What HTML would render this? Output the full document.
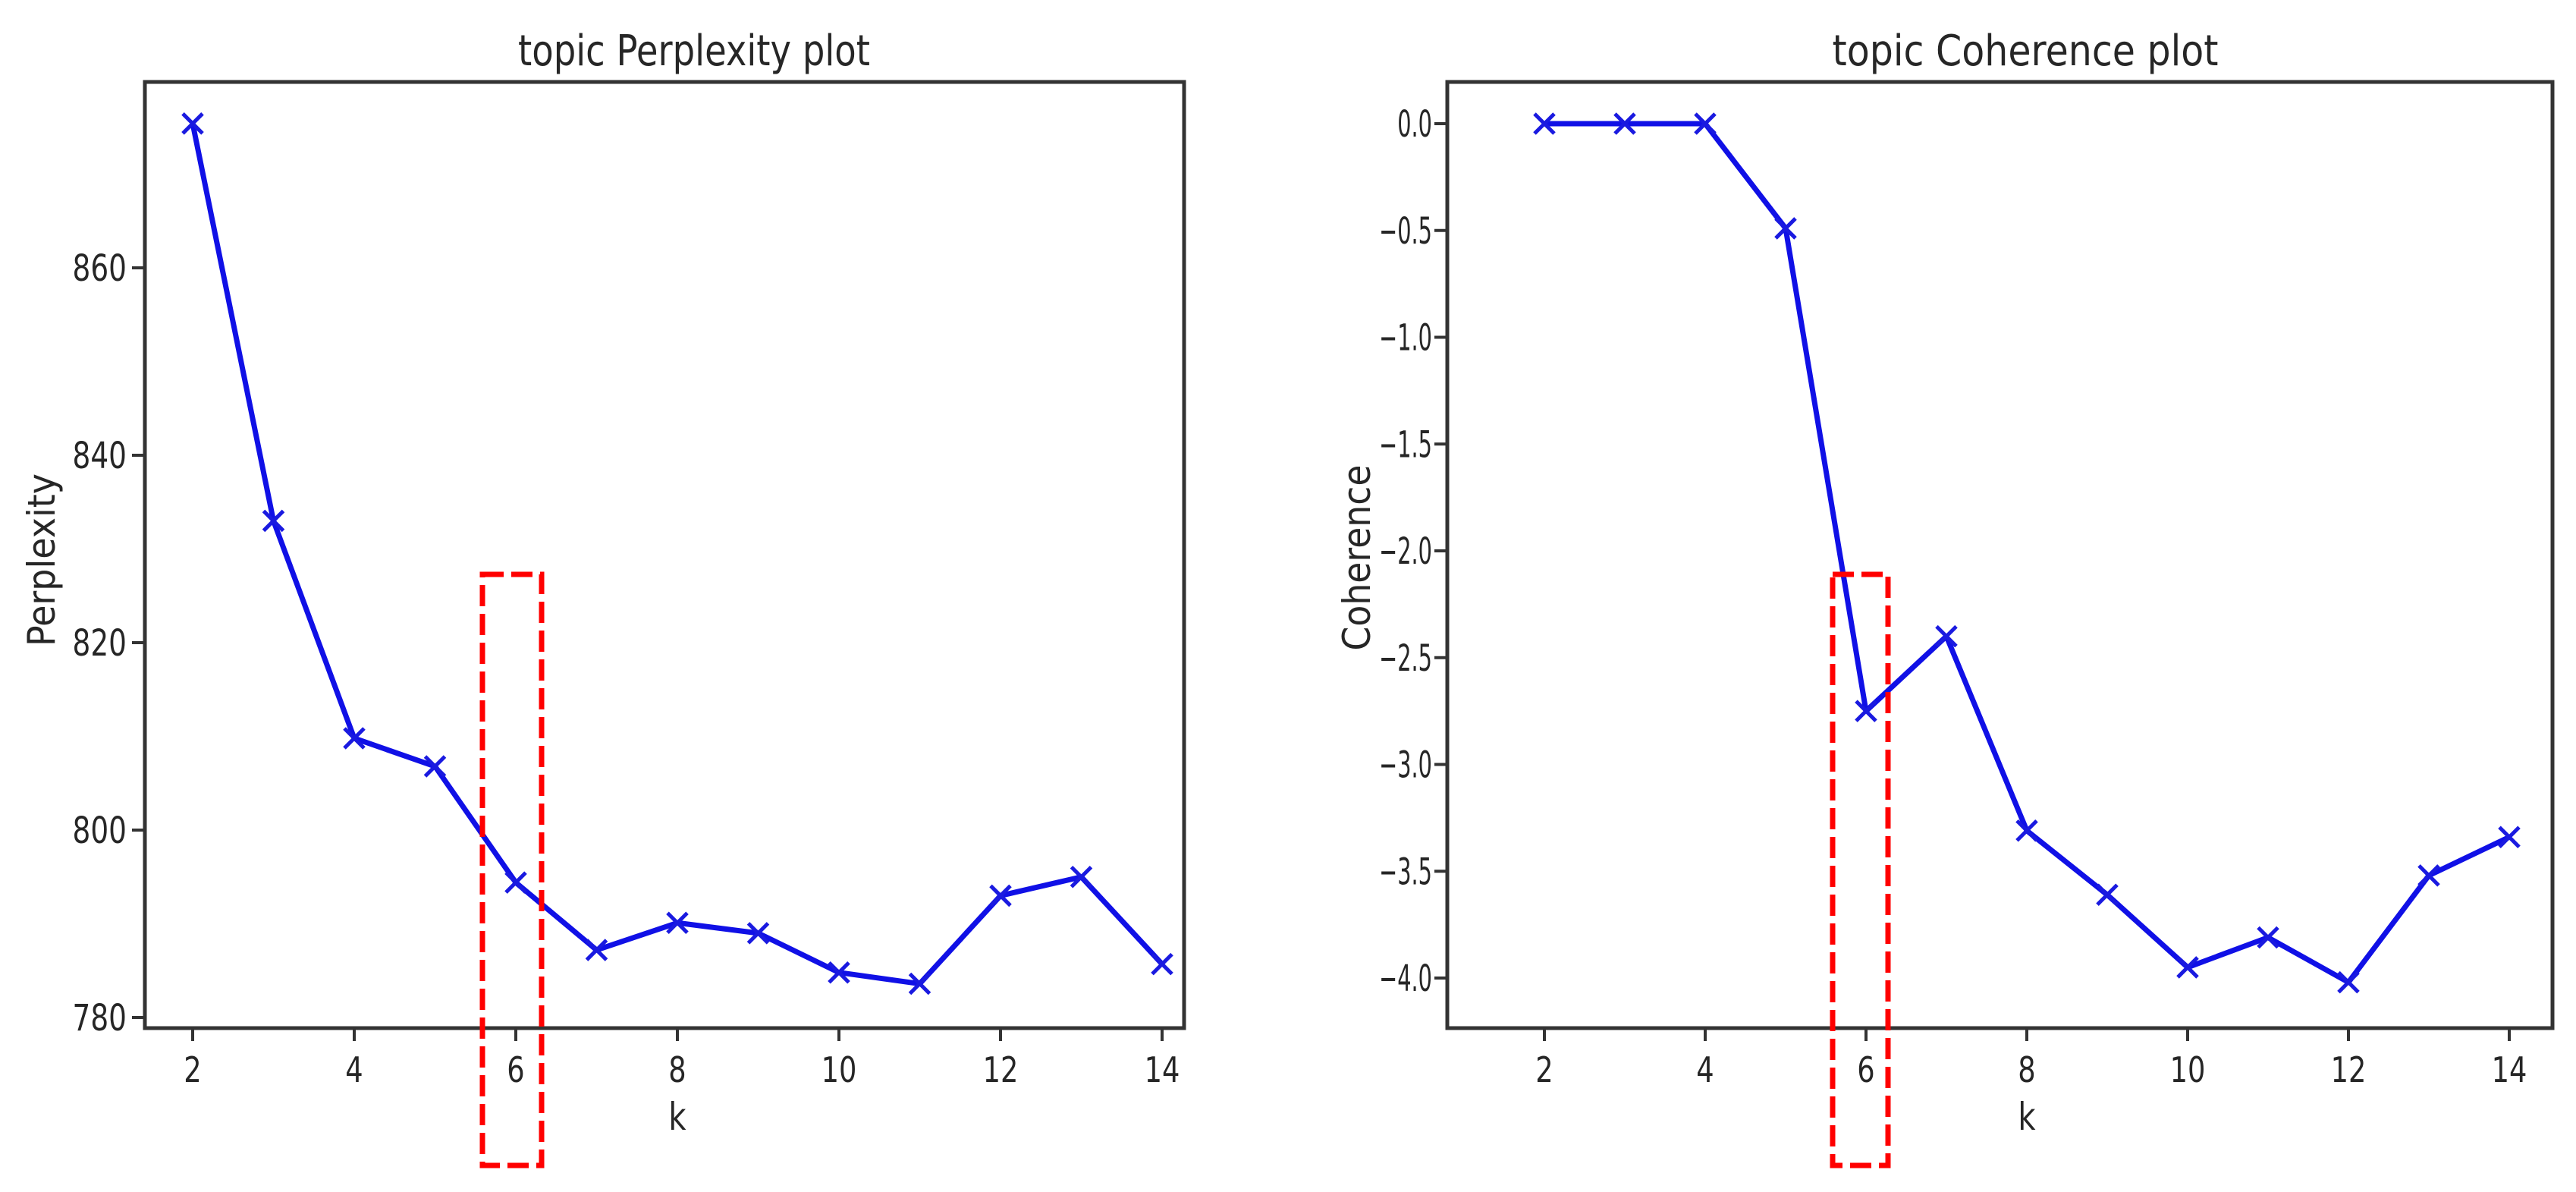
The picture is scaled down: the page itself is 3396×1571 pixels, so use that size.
<!DOCTYPE html>
<html><head><meta charset="utf-8"><style>
html,body{margin:0;padding:0;background:#fff;width:3396px;height:1571px;overflow:hidden}
svg{display:block}
text{font-family:"DejaVu Sans","Liberation Sans",sans-serif;fill:#262626}
</style></head><body>
<svg id="chart" width="3396" height="1571" viewBox="0 0 3396 1571" xmlns="http://www.w3.org/2000/svg"></svg>
<script>
const kValues = [2,3,4,5,6,7,8,9,10,11,12,13,14];
const perplexityValues = [875.4,833.0,809.8,806.8,794.4,787.2,790.1,789.0,784.8,783.6,793.0,795.0,785.7];
const coherenceValues = [0,0,0,-0.49,-2.75,-2.40,-3.31,-3.61,-3.95,-3.81,-4.02,-3.52,-3.34];
const xTickLabels = [2,4,6,8,10,12,14];
const perplexityTicks = [780,800,820,840,860];
const coherenceTicks = [0,-0.5,-1,-1.5,-2,-2.5,-3,-3.5,-4];

const NS = "http://www.w3.org/2000/svg";
const svg = document.getElementById('chart');
function mk(tag, attrs, parent){
  const e = document.createElementNS(NS, tag);
  for (const k in attrs) e.setAttribute(k, attrs[k]);
  (parent||svg).appendChild(e);
  return e;
}
function txt(parent, x, y, s, size, anchor, sx, name){
  const t = mk('text', {'text-anchor':anchor, 'font-size':size, transform:`translate(${x},${y}) scale(${sx},1)`}, parent);
  
  
  t.textContent = s;
  return t;
}
function fmtC(v){ return (v<0?'\u2212':'') + Math.abs(v).toFixed(1); }

function panel(cfg){
  const g = mk('g', {});
  
  
  const xs = k => cfg.x2 + (k-2)*cfg.xUnit;
  const ys = v => cfg.y0 - (v - cfg.v0)*cfg.yUnit;
  xTickLabels.forEach(k=>{
    const l = mk('line',{x1:xs(k),x2:xs(k),y1:cfg.bottom,y2:cfg.bottom+17,stroke:'#333','stroke-width':4},g);
    
    
    txt(g, xs(k), 1426, String(k), 46, 'middle', 0.8, 'x-tick-label');
  });
  cfg.yTicks.forEach(v=>{
    const l = mk('line',{x1:cfg.left-17,x2:cfg.left,y1:ys(v),y2:ys(v),stroke:'#333','stroke-width':4},g);
    
    
    txt(g, cfg.left-cfg.labGap, ys(v)+17, cfg.fmt(v), 48, 'end', cfg.labSx, 'y-tick-label');
  });
  const pts = kValues.map((k,i)=>[xs(k), ys(cfg.values[i])]);
  const pl = mk('polyline',{points:pts.map(p=>p.join(',')).join(' '),fill:'none',stroke:'#1010e6','stroke-width':7,'stroke-linejoin':'round'},g);
  
  
  pts.forEach(p=>{
    const m = mk('path',{d:`M${p[0]-13},${p[1]-13}L${p[0]+13},${p[1]+13}M${p[0]-13},${p[1]+13}L${p[0]+13},${p[1]-13}`,stroke:'#1a1ae0','stroke-width':5,fill:'none'},g);
    
    
  });
  const f = mk('rect',{x:cfg.left,y:cfg.top,width:cfg.right-cfg.left,height:cfg.bottom-cfg.top,fill:'none',stroke:'#333','stroke-width':5},g);
  
  
  const t = txt(g, cfg.titleX, 86, cfg.title, 56, 'middle', 1, 'chart-title');
  t.setAttribute('textLength', cfg.titleW);
  t.setAttribute('lengthAdjust','spacingAndGlyphs');
  txt(g, xs(8), 1489, 'k', 50, 'middle', 0.8, 'x-axis-title');
  const yl = mk('text',{'text-anchor':'middle','font-size':50,transform:`translate(${cfg.ylX},${cfg.ylY}) rotate(-90)`,textLength:cfg.ylW,lengthAdjust:'spacingAndGlyphs'},g);
  
  
  yl.textContent = cfg.ylabel;
  const hb = mk('rect',{x:cfg.box[0],y:757,width:cfg.box[1]-cfg.box[0],height:1536-757,fill:'none',stroke:'#ff0000','stroke-width':7,'stroke-dasharray':'28 10'},g);
  
  
}

panel({name:'perplexity-panel', left:191, right:1561, top:108, bottom:1355,
  x2:254, xUnit:106.5, y0:1341, v0:780, yUnit:12.35, values:perplexityValues, labSx:0.78, labGap:24,
  yTicks:perplexityTicks, fmt:v=>String(v), title:'topic Perplexity plot', titleX:915, titleW:464,
  ylabel:'Perplexity', ylX:72, ylY:738, ylW:228, box:[636,714]});
panel({name:'coherence-panel', left:1908, right:3365, top:108, bottom:1355,
  x2:2036, xUnit:106, y0:163, v0:0, yUnit:281.5, values:coherenceValues, labSx:0.6, labGap:20,
  yTicks:coherenceTicks, fmt:fmtC, title:'topic Coherence plot', titleX:2670, titleW:509,
  ylabel:'Coherence', ylX:1806, ylY:735, ylW:245, box:[2416,2489]});
</script>
</body></html>
